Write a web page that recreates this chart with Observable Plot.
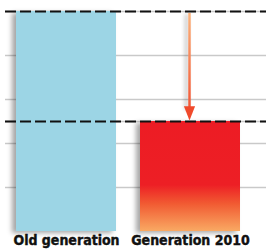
<!DOCTYPE html>
<html><head><meta charset="utf-8">
<script src="https://cdn.jsdelivr.net/npm/d3@7"></script>
<script src="https://cdn.jsdelivr.net/npm/@observablehq/plot@0.6"></script>
<style>body{margin:0;background:#fff}</style>
</head><body><div id="chart"></div>
<script>
const categories = ["Old generation", "Generation 2010"];
const values = [100, 50];
const barFills = ["#9cd5e5", "url(#redGrad)"];
const gridTicks = [20, 40, 50, 60, 80, 100];
const dashedLevels = [100, 50];
const arrowFrom = 100, arrowTo = 50;
const arrowCategory = "Generation 2010";

const data = categories.map((c, i) => ({category: c, value: values[i], fill: barFills[i]}));

const NS = "http://www.w3.org/2000/svg";
function defs() {
  const d = document.createElementNS(NS, "defs");
  d.innerHTML = `
    <linearGradient id="redGrad" x1="0" y1="0" x2="0" y2="1">
      <stop offset="0" stop-color="#ed1c24"/>
      <stop offset="0.58" stop-color="#ed1f25"/>
      <stop offset="0.75" stop-color="#f15a32"/>
      <stop offset="1" stop-color="#f9a963"/>
    </linearGradient>
    <linearGradient id="arrowGrad" gradientUnits="userSpaceOnUse" x1="0" y1="0" x2="0" y2="100">
      <stop offset="0" stop-color="#fbb57e"/>
      <stop offset="1" stop-color="#f04a2c"/>
    </linearGradient>
    <filter id="blurShadow" filterUnits="userSpaceOnUse" x="0" y="0" width="266" height="252">
      <feGaussianBlur in="SourceGraphic" stdDeviation="2.5"/>
    </filter>
    <filter id="shadowLine" filterUnits="userSpaceOnUse" x="0" y="0" width="266" height="252">
      <feGaussianBlur in="SourceAlpha" stdDeviation="2" result="blur"/>
      <feOffset in="blur" dx="-3" dy="1" result="off"/>
      <feComponentTransfer in="off" result="shad"><feFuncA type="linear" slope="0.3"/></feComponentTransfer>
      <feMerge><feMergeNode in="shad"/><feMergeNode in="SourceGraphic"/></feMerge>
    </filter>`;
  return d;
}

const downTriangle = {
  draw(context, size) {
    const s = Math.sqrt(size);
    const w = s * 1.05, h = s * 1.35;
    context.moveTo(0, 0);
    context.lineTo(-w / 2, -h);
    context.lineTo(w / 2, -h);
    context.closePath();
  }
};

const chart = Plot.plot({
  width: 266,
  height: 252,
  marginTop: 11,
  marginBottom: 21,
  marginLeft: 5,
  marginRight: 0,
  style: {fontFamily: "'Liberation Sans Narrow', 'DejaVu Sans Condensed', sans-serif", background: "#fff"},
  x: {domain: categories, range: [4, 252], paddingInner: 24 / 124, paddingOuter: 12 / 124, axis: null},
  y: {domain: [0, 100], axis: null},
  marks: [
    defs,
    Plot.ruleY(gridTicks, {stroke: "#c9c9c9", strokeWidth: 1.5}),
    Plot.barY(data, {x: "category", y: "value", fill: "#000", fillOpacity: 0.35, dx: -4, dy: 2, ariaLabel: "bar-shadow"}),
    Plot.barY(data, {x: "category", y: "value", fill: "fill"}),
    Plot.ruleY(dashedLevels, {stroke: "#111", strokeWidth: 2, strokeDasharray: "11,4"}),
    Plot.ruleX([arrowCategory], {y1: arrowFrom, y2: arrowTo, stroke: "url(#arrowGrad)", strokeWidth: 2.5, insetTop: 2, insetBottom: 12, dx: -1}),
    Plot.dot([arrowCategory], {x: d => d, y: arrowTo, symbol: downTriangle, r: 6, fill: "#f0492b", stroke: "none", dy: -1, dx: -1}),
    Plot.text(data, {x: "category", text: "category", frameAnchor: "bottom", dy: 13, fontSize: 14, fontWeight: "bold", fill: "#111", stroke: "#111", strokeWidth: 0.4})
  ]
});

const ys = chart.scale("y");
const g = chart.querySelector("#arrowGrad");
g.setAttribute("y1", ys.apply(arrowFrom));
g.setAttribute("y2", ys.apply(arrowTo));
chart.querySelectorAll('g[aria-label="rule"]').forEach(el => {
  if (el.getAttribute("stroke") === "url(#arrowGrad)" || el.querySelector('[stroke="url(#arrowGrad)"]')) el.setAttribute("filter", "url(#shadowLine)");
});
const shadowGroup = chart.querySelector('g[aria-label="bar-shadow"]') || chart.querySelector('g[aria-label="bar"]');
if (shadowGroup) shadowGroup.setAttribute("filter", "url(#blurShadow)");
document.getElementById("chart").append(chart);
</script>
</body></html>
